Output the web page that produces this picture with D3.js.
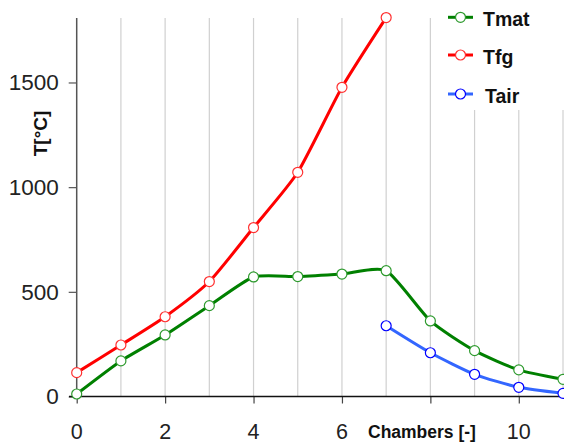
<!DOCTYPE html>
<html><head><meta charset="utf-8">
<script src="https://cdn.jsdelivr.net/npm/d3@7"></script>
<style>body{margin:0;background:#fff}svg{display:block;font-family:"Liberation Sans",Arial,sans-serif}</style>
</head><body>
<svg id="c" width="564" height="443"></svg>
<script>
const chambers = [0,1,2,3,4,5,6,7,8,9,10,11];
const tmat = [12,170,294,434,571,573,585,601,361,219,127,82];
const tfgX = [0,1,2,3,4,5,6,7];
const tfg = [114,246,381,549,807,1071,1477,1810];
const tairX = [7,8,9,10,11];
const tair = [338,209,106,44,15];
const yTicks = [0,500,1000,1500];
const xTickLabels = [0,2,4,6,10];
const seriesNames = ["Tmat","Tfg","Tair"];

const svg = d3.select("#c");
const x = d3.scaleLinear().domain([0,11]).range([76.7,563]);
const y = d3.scaleLinear().domain([0,1808]).range([396.5,18]);

// vertical gridlines
svg.append("g").selectAll("line").data(d3.range(1,12)).join("line")
  .attr("x1",d=>x(d)).attr("x2",d=>x(d)).attr("y1",y(1808)).attr("y2",y(0))
  .attr("stroke","#d0d0d0").attr("stroke-width",1.2);

// y axis
const yAxis = d3.axisLeft(y).tickValues(yTicks).tickSize(8).tickPadding(10).tickFormat(d3.format("d"));
const gy = svg.append("g").attr("transform",`translate(${x(0)},0)`).call(yAxis);
gy.select(".domain").remove();
gy.append("line").attr("x1",0).attr("x2",0).attr("y1",y(1808)).attr("y2",y(0)).attr("stroke","#555").attr("stroke-width",1.5);
gy.selectAll(".tick line").attr("stroke","#555").attr("stroke-width",1.2);
gy.selectAll(".tick text").attr("font-size",22.5).attr("fill","#222").attr("font-family","Liberation Sans, Arial, sans-serif");

// x axis
const xAxis = d3.axisBottom(x).tickValues([0,2,4,6,8,10]).tickSize(7).tickPadding(0).tickFormat("");
const gx = svg.append("g").attr("transform",`translate(0,${y(0)})`).call(xAxis);
gx.select(".domain").remove();
gx.append("line").attr("x1",69).attr("x2",564).attr("y1",0).attr("y2",0).attr("stroke","#111").attr("stroke-width",1.5);
gx.selectAll(".tick line").attr("stroke","#444").attr("stroke-width",1.2);
svg.append("g").selectAll("text").data(xTickLabels).join("text")
  .attr("x",d=>x(d)).attr("y",438.5).attr("text-anchor","middle")
  .attr("font-size",21.5).attr("fill","#222").text(d=>d);
svg.append("text").attr("x",368).attr("y",437.5).attr("text-anchor","start")
  .attr("font-size",17.5).attr("font-weight","bold").attr("fill","#111").text("Chambers [-]");

// y title
svg.append("text").attr("transform","translate(47,133.5) rotate(-90)").attr("text-anchor","middle")
  .attr("font-size",19).attr("font-weight","bold").attr("fill","#111").text("T[°C]");

const line = d3.line().x(d=>x(d[0])).y(d=>y(d[1])).curve(d3.curveCardinal.tension(0.4));
const series = [
  {name:seriesNames[0], pts:d3.zip(chambers,tmat), color:"#008000", mk:"#2e9a2e"},
  {name:seriesNames[1], pts:d3.zip(tfgX,tfg), color:"#ff0000", mk:"#ff3030"},
  {name:seriesNames[2], pts:d3.zip(tairX,tair), color:"#3366ff", mk:"#0000ff"}
];

// legend background
svg.append("rect").attr("x",440).attr("y",0).attr("width",124).attr("height",110).attr("fill","#fff");

series.forEach(s=>{
  svg.append("path").attr("d",line(s.pts)).attr("fill","none").attr("stroke",s.color).attr("stroke-width",3);
  svg.append("g").selectAll("circle").data(s.pts).join("circle")
    .attr("cx",d=>x(d[0])).attr("cy",d=>y(d[1])).attr("r",5)
    .attr("fill","#fff").attr("stroke",s.mk).attr("stroke-width",1.2);
});

// legend
const lg = svg.append("g");
const legY = [17.3,55,94];
series.forEach((s,i)=>{
  const cy = legY[i];
  lg.append("line").attr("x1",448).attr("x2",473).attr("y1",cy).attr("y2",cy).attr("stroke",s.color).attr("stroke-width",3);
  lg.append("circle").attr("cx",460.5).attr("cy",cy).attr("r",5).attr("fill","#fff").attr("stroke",s.mk).attr("stroke-width",1.2);
  lg.append("text").attr("x",i==2?485:483).attr("y",cy+8.5).attr("font-size",19.5).attr("font-weight","bold").attr("fill","#111").text(s.name);
});
</script>
</body></html>
